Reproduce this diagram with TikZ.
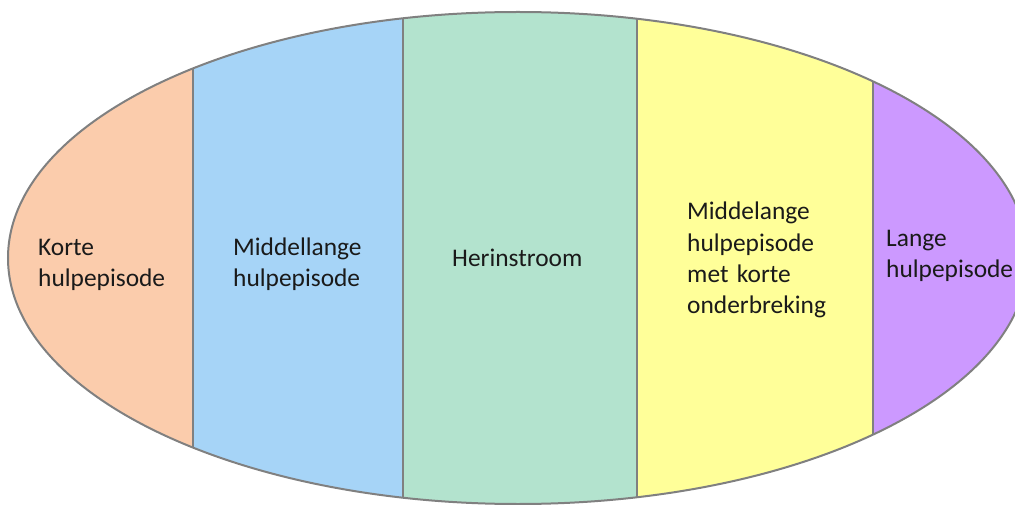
\documentclass[tikz,border=0pt]{standalone}
\usepackage{fontspec}
\setmainfont{Carlito}
\definecolor{cpeach}{HTML}{FBCCAC}
\definecolor{cblue}{HTML}{A6D4F7}
\definecolor{cgreen}{HTML}{B3E3CE}
\definecolor{cyellow}{HTML}{FFFF99}
\definecolor{cpurple}{HTML}{CC99FF}
\definecolor{cborder}{HTML}{808080}
\definecolor{ctext}{HTML}{1A1A1A}
\tikzset{
  lbl/.style={anchor=base west, inner sep=0pt, text width=260pt, align=left,
    text=ctext, font=\fontsize{25.4}{30.5}\selectfont},
  divider/.style={draw=cborder, line width=1.3pt},
  rim/.style={draw=cborder, line width=2pt}
}
\begin{document}
\begin{tikzpicture}[x=1pt,y=-1pt]
\useasboundingbox (0,0) rectangle (1015,505);
\begin{scope}
  \clip (0,0) rectangle (1015,505);
  \begin{scope}
    \clip (518,258) ellipse [x radius=510, y radius=246];
    \fill[cpeach]  (0,0)   rectangle (193,505);
    \fill[cblue]   (193,0) rectangle (403,505);
    \fill[cgreen]  (403,0) rectangle (637,505);
    \fill[cyellow] (637,0) rectangle (873,505);
    \fill[cpurple] (873,0) rectangle (1040,505);
    \draw[divider] (193,0) -- (193,505);
    \draw[divider] (403,0) -- (403,505);
    \draw[divider] (637,0) -- (637,505);
    \draw[divider] (873,0) -- (873,505);
  \end{scope}
  \draw[rim] (518,258) ellipse [x radius=510, y radius=246];
\end{scope}
\node[lbl] (korte) at (38,256) {Korte\\hulpepisode};
\node[lbl] (middellange) at (233,256) {Middellange\\hulpepisode};
\node[lbl] (herinstroom) at (452,267) {Herinstroom};
\node[lbl, font=\fontsize{25.4}{31.3}\selectfont] (middelange) at (687,220) {Middelange\\hulpepisode\\met korte\\onderbreking};
\node[lbl] (lange) at (886,247) {Lange\\hulpepisode};
\end{tikzpicture}
\end{document}
